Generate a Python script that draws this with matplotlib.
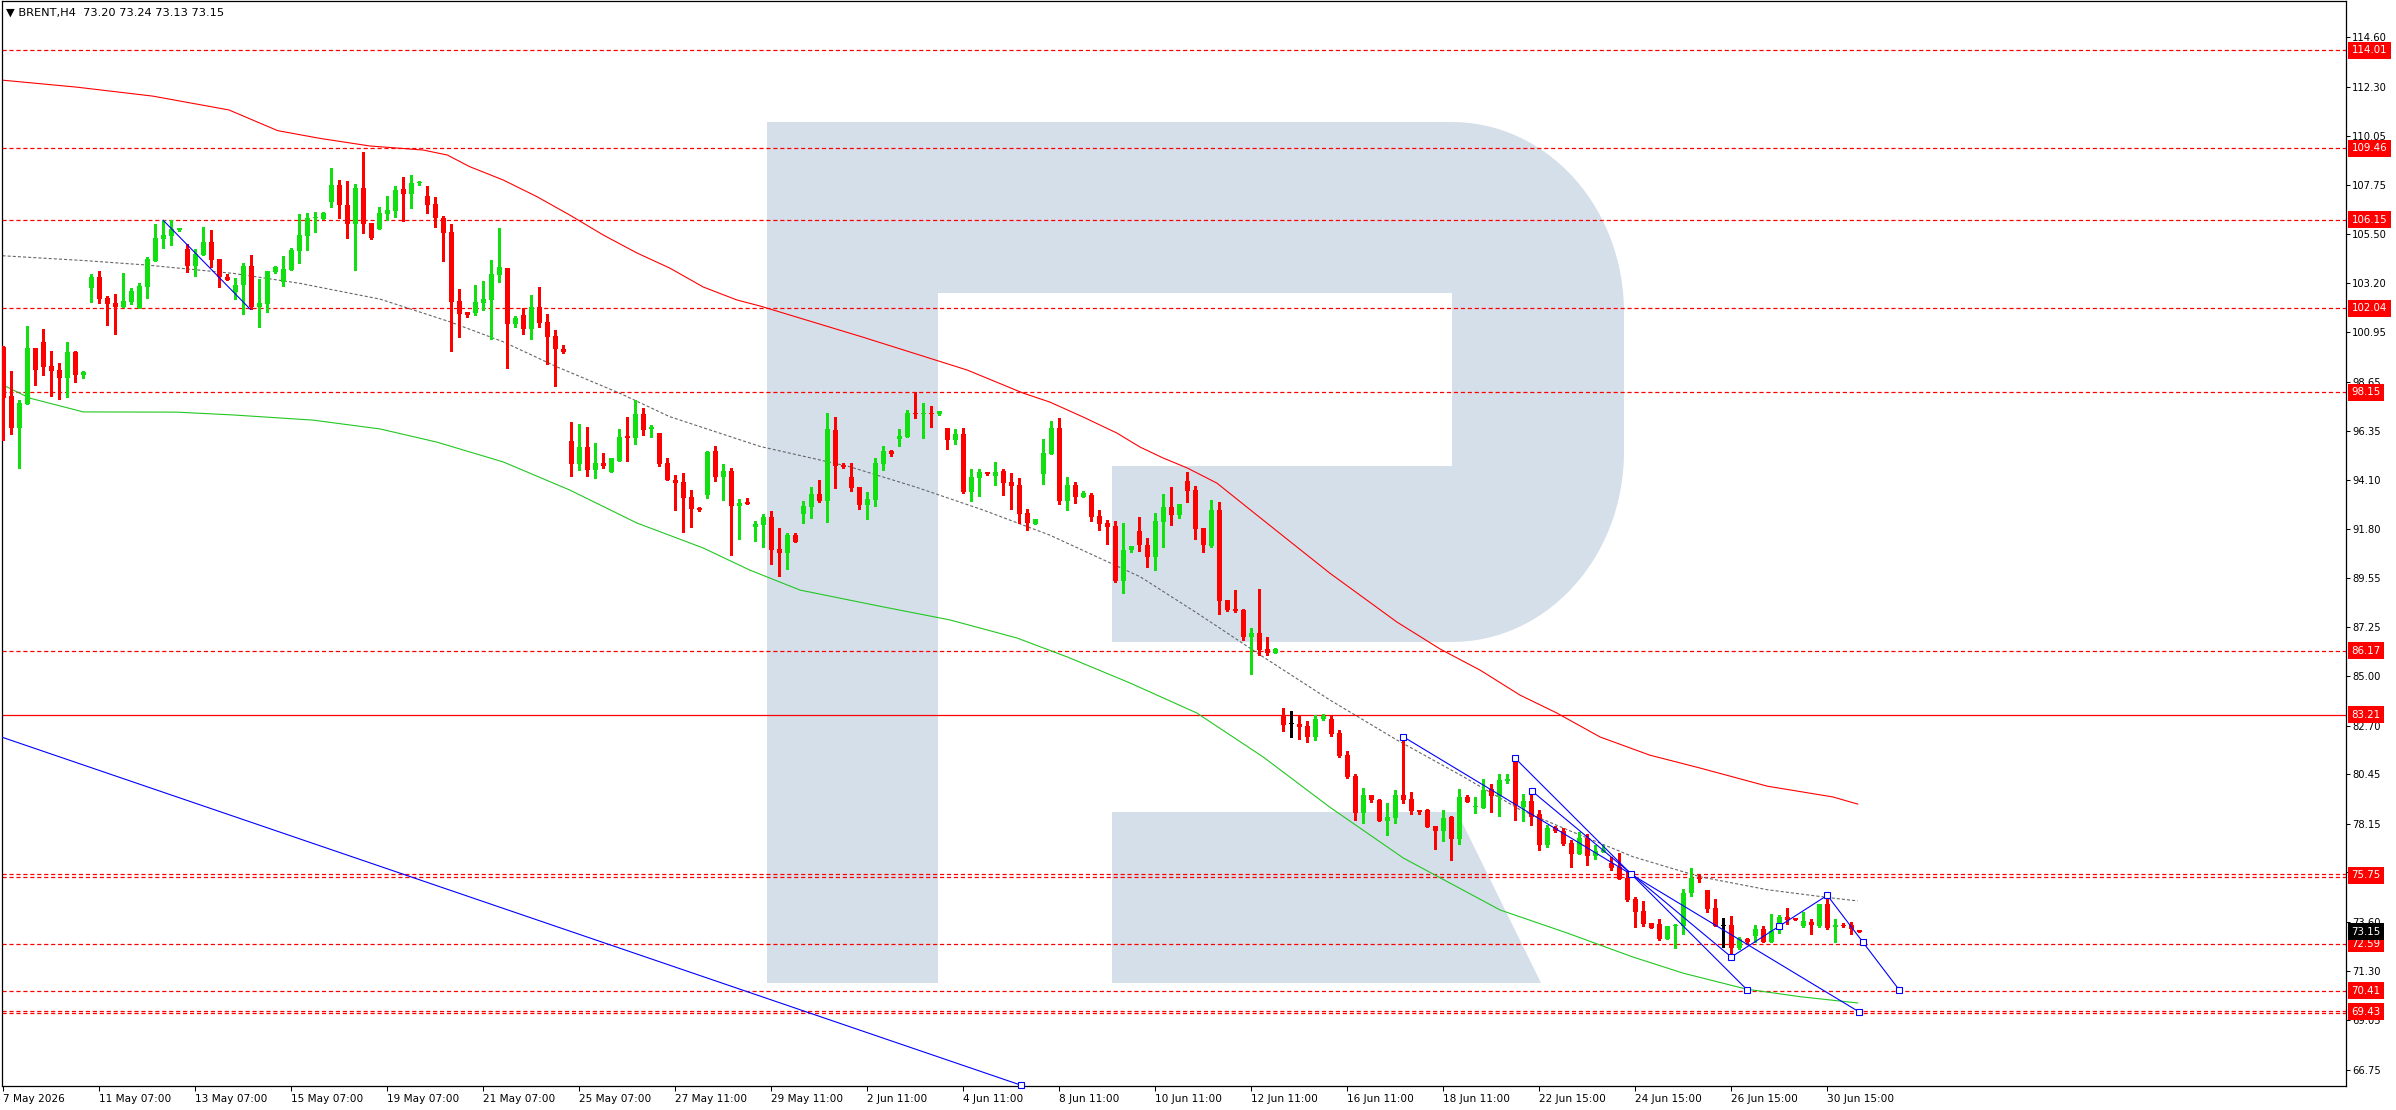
import numpy as np
import matplotlib
matplotlib.use("Agg")
import matplotlib.pyplot as plt
from matplotlib import transforms
from matplotlib.patches import Polygon

plt.rcParams["font.family"] = ["DejaVu Sans"]
plt.rcParams["lines.scale_dashes"] = False

# H4 bars, one per index (0 = first bar on the left)
bar_open = [
    100.26, 97.99, 96.51, 97.61, 100.20, 100.48, 99.37, 99.18, 98.83, 100.02,
    98.97, 103.00, 103.49, 102.52, 102.29, 102.12, 102.35, 102.04, 103.05, 104.25,
    105.27, 105.41, 105.67, 104.79, 104.02, 104.51, 105.12, 104.33, 103.49, 102.80,
    103.12, 104.00, 102.10, 102.26, 103.74, 103.28, 103.82, 104.71, 105.39, 106.22,
    106.18, 106.99, 107.76, 106.83, 105.97, 107.60, 105.98, 105.70, 106.43, 106.57,
    107.57, 107.36, 107.84, 107.25, 106.86, 106.21, 105.58, 102.37, 101.87, 101.82,
    102.29, 102.44, 103.60, 103.93, 101.33, 101.73, 101.10, 102.10, 101.41, 100.76,
    100.16, 95.89, 94.84, 95.61, 94.56, 94.87, 94.47, 94.96, 96.11, 96.05,
    97.14, 96.45, 96.26, 94.89, 94.10, 94.00, 93.30, 92.80, 93.39, 95.43,
    94.22, 94.50, 92.86, 93.08, 91.89, 92.01, 92.37, 90.88, 90.71, 91.53,
    92.52, 92.85, 93.43, 93.12, 96.40, 94.78, 94.22, 93.76, 92.94, 93.17,
    94.84, 95.44, 95.98, 96.08, 97.19, 97.16, 97.19, 97.16, 96.49, 95.94,
    96.22, 93.53, 94.19, 94.45, 94.28, 94.50, 93.99, 93.85, 92.55, 92.04,
    94.36, 95.29, 96.49, 93.11, 93.85, 93.29, 93.39, 92.41, 92.09, 91.95,
    89.40, 90.84, 91.72, 91.07, 90.51, 92.15, 92.83, 92.46, 94.04, 93.62,
    91.86, 91.02, 92.69, 88.52, 88.10, 88.06, 86.80, 86.99, 86.25, 86.06,
    83.19, 82.75, 82.77, 82.68, 82.18, 83.00, 83.00, 82.35, 81.33, 80.36,
    78.65, 79.48, 79.25, 78.27, 78.41, 79.48, 79.29, 78.78, 78.78, 78.04,
    77.81, 78.46, 77.44, 79.39, 78.91, 78.88, 79.74, 79.43, 80.13, 81.01,
    78.94, 79.20, 78.60, 77.18, 77.95, 77.81, 77.27, 76.74, 77.49, 76.67,
    76.83, 76.34, 76.16, 75.63, 74.66, 74.10, 73.54, 73.50, 72.80, 73.41,
    73.41, 74.93, 75.63, 75.08, 74.24, 73.41, 73.45, 72.38, 72.80, 72.94,
    73.27, 72.66, 73.41, 73.82, 73.77, 73.41, 73.59, 73.41, 74.42, 73.36,
    73.45, 73.45, 73.20,
]
bar_high = [
    100.30, 99.13, 97.79, 101.22, 100.20, 101.08, 100.06, 99.51, 100.48, 100.08,
    99.12, 103.62, 103.77, 102.63, 102.71, 103.66, 102.98, 103.20, 104.42, 105.95,
    106.12, 106.12, 105.78, 105.02, 104.79, 105.80, 105.67, 104.33, 103.63, 103.43,
    104.13, 104.51, 103.40, 103.77, 104.00, 104.47, 104.85, 106.43, 106.48, 106.52,
    106.52, 108.55, 107.99, 107.94, 107.80, 109.29, 105.98, 106.75, 107.25, 107.71,
    108.15, 108.24, 107.96, 107.71, 107.20, 106.32, 105.93, 102.94, 101.87, 103.12,
    103.31, 104.28, 105.77, 103.93, 101.70, 102.04, 102.66, 103.03, 101.78, 101.04,
    100.34, 96.77, 96.68, 96.54, 95.80, 95.33, 95.09, 96.45, 97.02, 97.79,
    97.42, 96.62, 96.26, 95.10, 94.31, 94.42, 93.62, 92.85, 95.44, 95.68,
    94.82, 94.64, 93.22, 93.25, 92.18, 92.51, 92.65, 91.86, 91.63, 91.61,
    93.11, 93.76, 94.08, 97.20, 97.00, 94.87, 94.87, 93.76, 93.54, 95.10,
    95.66, 95.49, 96.45, 97.33, 98.16, 97.65, 97.51, 97.28, 96.49, 96.45,
    96.49, 94.59, 94.59, 94.45, 94.92, 94.59, 94.41, 94.17, 92.74, 92.27,
    95.98, 96.82, 96.96, 94.22, 93.99, 93.57, 93.48, 92.69, 92.23, 92.18,
    92.09, 91.02, 92.35, 91.39, 92.55, 93.43, 93.76, 92.97, 94.45, 93.80,
    91.86, 93.15, 93.06, 88.52, 88.98, 88.10, 87.22, 89.03, 86.80, 86.30,
    83.51, 83.37, 83.14, 82.89, 83.19, 83.24, 83.14, 82.49, 81.52, 80.45,
    79.80, 79.48, 79.29, 79.11, 79.71, 82.18, 79.62, 78.78, 78.83, 78.04,
    78.78, 78.50, 79.76, 79.48, 79.39, 80.22, 79.99, 80.45, 80.45, 81.10,
    79.52, 79.52, 78.78, 78.09, 78.04, 77.95, 77.39, 77.76, 77.67, 77.16,
    77.16, 76.62, 76.81, 75.95, 74.75, 74.56, 73.54, 73.73, 73.41, 73.50,
    75.12, 76.09, 75.77, 75.08, 74.66, 73.77, 73.87, 72.89, 72.85, 73.45,
    73.41, 73.96, 73.92, 74.24, 73.77, 74.05, 73.73, 74.42, 74.70, 73.73,
    73.54, 73.59, 73.24,
]
bar_low = [
    95.94, 96.20, 94.62, 97.60, 98.49, 98.95, 97.99, 97.85, 97.94, 98.64,
    98.80, 102.35, 102.27, 101.27, 100.87, 102.12, 102.26, 102.04, 102.53, 104.25,
    104.85, 104.98, 105.64, 103.74, 103.55, 104.51, 103.96, 103.04, 103.37, 102.49,
    101.79, 101.99, 101.19, 101.89, 103.70, 103.08, 103.82, 104.16, 104.74, 105.58,
    106.18, 106.75, 106.23, 105.32, 103.82, 105.55, 105.26, 105.70, 106.14, 106.26,
    106.11, 106.69, 107.74, 106.48, 105.83, 104.25, 100.08, 100.73, 101.62, 101.72,
    101.96, 100.63, 103.28, 99.29, 101.19, 100.85, 100.62, 101.19, 99.46, 98.46,
    99.99, 94.28, 94.56, 94.28, 94.19, 94.64, 94.47, 94.96, 94.98, 95.77,
    96.18, 96.09, 94.75, 94.10, 92.71, 91.66, 91.92, 92.66, 93.27, 94.05,
    93.17, 90.59, 91.36, 92.96, 91.26, 91.00, 90.20, 89.65, 89.97, 91.22,
    92.11, 92.34, 93.05, 92.15, 93.73, 94.64, 93.59, 92.75, 92.29, 92.89,
    94.56, 95.21, 95.67, 96.08, 96.97, 96.03, 96.56, 97.11, 95.52, 95.75,
    93.48, 93.11, 93.34, 94.31, 93.85, 93.39, 92.74, 92.09, 91.78, 92.04,
    93.90, 95.29, 92.99, 92.69, 93.02, 93.29, 92.18, 91.76, 91.12, 89.35,
    88.84, 90.75, 90.81, 90.05, 89.93, 90.98, 92.00, 92.34, 93.06, 91.35,
    90.73, 90.98, 87.87, 88.01, 87.96, 86.66, 85.09, 85.97, 85.97, 86.06,
    82.45, 82.19, 82.08, 81.92, 82.04, 82.95, 82.21, 81.24, 80.27, 78.32,
    78.18, 79.15, 78.27, 77.62, 78.18, 79.11, 78.60, 78.60, 77.98, 76.97,
    77.35, 76.47, 77.21, 79.15, 78.64, 78.88, 78.69, 78.50, 80.04, 78.32,
    78.29, 78.09, 76.93, 77.08, 77.78, 77.18, 76.16, 76.74, 76.23, 76.51,
    76.83, 76.00, 75.58, 74.56, 73.36, 73.41, 73.31, 72.76, 72.80, 72.38,
    73.03, 74.80, 75.44, 74.05, 73.41, 72.43, 72.06, 72.34, 72.57, 72.66,
    72.66, 72.66, 73.08, 73.50, 73.68, 73.36, 73.03, 73.36, 73.27, 72.66,
    73.36, 73.03, 73.13,
]
bar_close = [
    97.90, 96.51, 97.64, 100.20, 99.20, 99.32, 99.15, 98.83, 100.02, 98.95,
    99.09, 103.49, 102.47, 102.26, 102.12, 102.38, 102.83, 103.08, 104.33, 105.30,
    105.43, 105.70, 105.75, 104.02, 104.57, 105.12, 104.30, 103.48, 103.37, 103.12,
    104.00, 102.10, 102.27, 103.77, 103.97, 103.86, 104.74, 105.44, 106.21, 106.25,
    106.46, 107.76, 106.83, 105.95, 107.60, 105.97, 105.30, 106.46, 106.60, 107.53,
    107.36, 107.85, 107.86, 106.85, 106.25, 105.55, 102.35, 101.80, 101.75, 102.32,
    102.47, 103.63, 103.96, 101.33, 101.59, 101.10, 102.10, 101.38, 100.73, 100.17,
    100.03, 94.84, 95.61, 94.56, 94.87, 94.75, 95.09, 96.08, 96.05, 97.14,
    96.42, 96.53, 94.84, 94.10, 93.96, 93.26, 92.75, 92.69, 95.40, 94.22,
    94.50, 92.89, 93.03, 92.96, 92.04, 92.37, 90.85, 90.71, 91.53, 91.22,
    92.88, 93.43, 93.12, 96.45, 94.75, 94.68, 93.73, 92.94, 93.20, 94.87,
    95.43, 95.30, 96.12, 97.19, 97.16, 97.19, 97.16, 97.28, 95.94, 96.22,
    93.53, 94.22, 94.45, 94.36, 94.45, 93.94, 93.81, 92.51, 92.09, 92.27,
    95.33, 96.49, 93.11, 93.85, 93.29, 93.48, 92.37, 92.04, 91.90, 89.40,
    90.84, 91.02, 91.07, 90.51, 92.18, 92.83, 92.46, 92.97, 93.57, 91.81,
    91.07, 92.69, 88.47, 88.06, 88.01, 86.80, 86.99, 86.20, 86.06, 86.25,
    82.72, 82.75, 82.63, 82.18, 83.00, 83.14, 82.31, 81.29, 80.31, 78.65,
    79.48, 79.25, 78.27, 78.46, 79.48, 79.25, 78.74, 78.69, 77.98, 77.81,
    78.41, 77.44, 79.39, 79.15, 78.96, 79.71, 79.43, 80.17, 80.22, 79.02,
    79.20, 78.47, 77.18, 77.95, 77.82, 77.21, 76.74, 77.49, 76.67, 76.87,
    76.93, 76.09, 75.58, 74.61, 74.05, 73.51, 73.31, 72.80, 73.41, 73.45,
    74.93, 75.63, 75.58, 74.19, 73.41, 73.41, 72.38, 72.80, 72.66, 73.27,
    72.66, 73.17, 73.82, 73.68, 73.68, 73.64, 73.45, 74.42, 73.31, 73.45,
    73.40, 73.27, 73.15,
]

# moving averages / trend guide, read as (bar, price) points
ma_slow_bar = [-0.4, 9.1, 18.7, 28.2, 34.3, 39.6, 45.8, 52.5, 55.5, 58.3, 62.5, 66.7,
               70.8, 75.0, 79.2, 83.3, 87.5, 91.7, 94.6, 107.5, 120.5, 127.5, 130.8,
               135.0, 139.2, 142.1, 145.0, 148.0, 151.7, 157.5, 165.8, 174.2, 179.6,
               184.6, 189.6, 194.2, 199.6, 205.8, 212.1, 220.5, 228.7, 231.8]
ma_slow_px = [112.63, 112.30, 111.88, 111.24, 110.28, 109.92, 109.57, 109.38, 109.15,
              108.61, 107.99, 107.22, 106.37, 105.44, 104.61, 103.91, 103.03, 102.43,
              102.15, 100.70, 99.18, 98.11, 97.70, 97.00, 96.26, 95.61, 95.10, 94.64,
              93.94, 92.22, 89.77, 87.50, 86.25, 85.27, 84.11, 83.28, 82.17, 81.33,
              80.73, 79.89, 79.39, 79.06]

ma_fast_bar = [0.0, 3.3, 10.0, 21.7, 28.7, 38.7, 47.1, 54.2, 62.5, 70.8, 79.2, 87.5,
               93.3, 99.6, 110.0, 118.3, 126.7, 133.0, 140.8, 149.2, 157.5, 165.8,
               175.0, 187.1, 195.5, 203.7, 210.0, 217.9, 224.6, 231.8]
ma_fast_px = [98.48, 97.88, 97.24, 97.23, 97.10, 96.86, 96.45, 95.84, 94.92, 93.62,
              92.09, 90.93, 89.91, 88.98, 88.20, 87.60, 86.76, 85.88, 84.68, 83.28,
              81.24, 78.92, 76.56, 74.15, 73.08, 71.97, 71.22, 70.48, 70.13, 69.84]

guide_bar = [-0.1, 10.4, 17.9, 28.8, 37.1, 41.3, 47.1, 55.8, 62.5, 69.2, 77.1, 83.3,
             94.6, 105.8, 114.2, 122.5, 130.8, 142.1, 149.2, 157.5, 165.8, 174.2,
             182.5, 189.6, 195.5, 203.7, 212.1, 220.5, 228.7, 231.8]
guide_px = [104.48, 104.25, 104.05, 103.66, 103.20, 102.89, 102.47, 101.42, 100.49,
            99.33, 98.10, 97.02, 95.64, 94.70, 93.74, 92.69, 91.53, 89.60, 87.92,
            85.88, 83.89, 82.03, 80.33, 78.80, 77.87, 76.62, 75.69, 75.09, 74.70, 74.57]

# drawn trend lines: (bar0, price0, bar1, price1)
trend_lines = [
    (20.0, 106.12, 30.9, 101.99),
    (-0.4, 82.19, 127.2, 66.03),
    (175.0, 82.18, 232.0, 69.42),
    (189.0, 81.18, 218.0, 70.44),
    (191.1, 79.66, 216.0, 71.97),
    (216.0, 71.97, 228.0, 74.83),
    (228.0, 74.83, 237.0, 70.44),
]
anchor_bar = [127.2, 175.0, 189.0, 191.1, 203.5, 216.0, 218.0, 222.0, 228.0, 232.0, 232.5, 237.0]
anchor_px = [66.03, 82.18, 81.18, 79.66, 75.80, 71.97, 70.44, 73.39, 74.83, 69.42, 72.65, 70.44]

levels = [114.01, 109.46, 106.15, 102.04, 98.15, 86.17, 83.21, 75.75, 72.59, 70.41, 69.43]
solid_levels = [83.21]
double_levels = [75.75, 69.43]
last_price = 73.15

price_ticks = [114.60, 112.30, 110.05, 107.75, 105.50, 103.20, 100.95, 98.65, 96.35,
               94.10, 91.80, 89.55, 87.25, 85.00, 82.70, 80.45, 78.15, 75.90, 73.60,
               71.30, 69.05, 66.75]
date_labels = ["7 May 2026", "11 May 07:00", "13 May 07:00", "15 May 07:00",
               "19 May 07:00", "21 May 07:00", "25 May 07:00", "27 May 11:00",
               "29 May 11:00", "2 Jun 11:00", "4 Jun 11:00", "8 Jun 11:00",
               "10 Jun 11:00", "12 Jun 11:00", "16 Jun 11:00", "18 Jun 11:00",
               "22 Jun 15:00", "24 Jun 15:00", "26 Jun 15:00", "30 Jun 15:00"]

W, H = 2396, 1110
fig = plt.figure(figsize=(W / 100, H / 100), dpi=100)
ax = fig.add_axes([2 / W, 24 / H, 2344 / W, 1085 / H])
ax.set_xlim(-0.1625, 292.84)
ax.set_ylim(65.99, 116.29)

# watermark logo, in figure pixels
px = transforms.Affine2D().scale(1 / W, -1 / H).translate(0, 1) + fig.transFigure
logo_c = "#d5dfea"
rx, ry = 172, 190
t = np.linspace(0, np.pi / 2, 30)
top_arc = [(1452 + rx * np.sin(a), 122 + ry - ry * np.cos(a)) for a in t]
bot_arc = [(1452 + rx * np.cos(a), 642 - ry + ry * np.sin(a)) for a in t]
bowl = [(1452, 122)] + top_arc + bot_arc + [(1452, 642)]
shapes = [
    [(767, 122), (938, 122), (938, 983), (767, 983)],
    [(938, 122), (1453, 122), (1453, 293), (938, 293)],
    bowl,
    [(1112, 466), (1453, 466), (1453, 642), (1112, 642)],
    [(1112, 812), (1457, 812), (1541, 983), (1112, 983)],
]
for s in shapes:
    ax.add_patch(Polygon(s, closed=True, transform=px, fc=logo_c, ec="none", zorder=0))

# horizontal levels
for lv in levels:
    if lv in solid_levels:
        ax.axhline(lv, color="#ff0000", lw=0.9, zorder=1.5)
    elif lv in double_levels:
        for d in (-0.05, 0.05):
            ax.axhline(lv + d, color="#ff0000", lw=0.9, ls=(0, (3, 2)), zorder=1.5)
    else:
        ax.axhline(lv, color="#ff0000", lw=0.9, ls=(0, (3, 2)), zorder=1.5)

ax.plot(ma_slow_bar, ma_slow_px, color="#ff0000", lw=0.8, zorder=2)
ax.plot(ma_fast_bar, ma_fast_px, color="#22c722", lw=0.8, zorder=2)
ax.plot(guide_bar, guide_px, color="#666666", lw=0.8, ls=(0, (2.2, 1.5)), zorder=2)

# candles
o = np.array(bar_open)
h = np.array(bar_high)
l = np.array(bar_low)
c = np.array(bar_close)
x = np.arange(len(o))
colors = np.where(c > o, "#10e010", np.where(c < o, "#ff0000", "#000000"))
ax.vlines(x, l, h, colors=colors, lw=0.75, zorder=3, antialiased=False)
body_lo = np.minimum(o, c)
body_h = np.maximum(np.abs(c - o), 0.05)
ax.bar(x, body_h, bottom=body_lo, width=0.625, color=colors, linewidth=0,
       zorder=3.1, antialiased=False)

for b0, p0, b1, p1 in trend_lines:
    ax.plot([b0, b1], [p0, p1], color="#0000ff", lw=0.8, zorder=4)
ax.plot(anchor_bar, anchor_px, ls="none", marker="s", ms=4.2, mfc="white",
        mec="#0000ff", mew=0.8, zorder=4.5, clip_on=False)

# axes styling
for sp in ax.spines.values():
    sp.set_color("black")
    sp.set_linewidth(0.9)
ax.yaxis.tick_right()
ax.set_yticks(price_ticks)
ax.set_yticklabels([f"{p:.2f}" for p in price_ticks])
ax.tick_params(axis="y", length=3, width=0.75, pad=1.5, labelsize=7.2, colors="black")
ax.set_xticks(np.arange(len(date_labels)) * 12)
ax.set_xticklabels(date_labels, ha="left")
ax.tick_params(axis="x", length=3.6, width=0.75, pad=2, labelsize=7.6)

lab_tr = transforms.blended_transform_factory(ax.transAxes, ax.transData)
for lv in levels:
    ax.text(1.0024, lv, f"{lv:.2f}", transform=lab_tr, color="white", fontsize=7.4,
            va="center", ha="left", zorder=6, clip_on=False,
            bbox=dict(boxstyle="square,pad=0.35", fc="#ff0000", ec="none"))
ax.text(1.0024, last_price, f"{last_price:.2f}", transform=lab_tr, color="white",
        fontsize=7.4, va="center", ha="left", zorder=7, clip_on=False,
        bbox=dict(boxstyle="square,pad=0.35", fc="black", ec="none"))

fig.text(6 / W, 1 - 13 / H, "\u25bc BRENT,H4  73.20 73.24 73.13 73.15",
         fontsize=8.2, va="center", ha="left", color="black")

fig.savefig("out.png", dpi=100, facecolor="white")
